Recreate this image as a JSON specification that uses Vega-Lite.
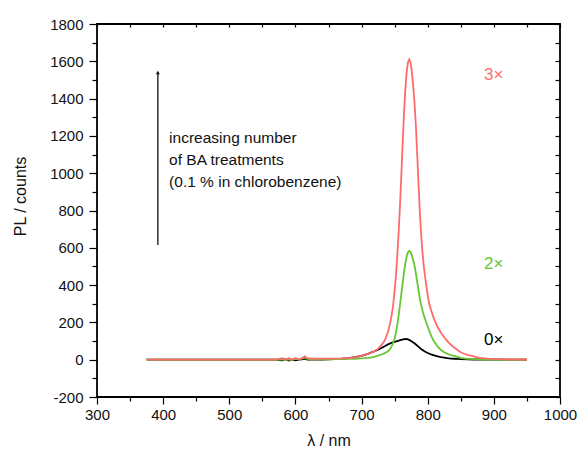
{
 "$schema": "https://vega.github.io/schema/vega-lite/v6.json",
 "width": 463,
 "height": 373,
 "autosize": "none",
 "padding": {"left": 97, "top": 24, "right": 19, "bottom": 60},
 "background": "white",
 "config": {
  "view": {"stroke": "#000", "strokeWidth": 1.8},
  "font": "Liberation Sans",
  "axis": {"grid": false, "domain": false, "labelFlush": false, "tickColor": "#000", "tickWidth": 1.2, "labelColor": "#111", "titleColor": "#111", "labelFont": "Liberation Sans", "titleFont": "Liberation Sans", "labelFontSize": 15, "titleFontSize": 16, "titleFontWeight": "normal"}
 },
 "datasets": {
  "pl": [
   {"s":"0x","nm":375,"pl":0},{"s":"0x","nm":400,"pl":0},{"s":"0x","nm":450,"pl":0},{"s":"0x","nm":500,"pl":0},{"s":"0x","nm":550,"pl":0},{"s":"0x","nm":570,"pl":0},{"s":"0x","nm":580,"pl":-4},{"s":"0x","nm":585,"pl":3},{"s":"0x","nm":590,"pl":-4},{"s":"0x","nm":595,"pl":2},{"s":"0x","nm":600,"pl":-3},{"s":"0x","nm":605,"pl":1},{"s":"0x","nm":610,"pl":2},{"s":"0x","nm":614,"pl":6},{"s":"0x","nm":618,"pl":0},{"s":"0x","nm":625,"pl":0},{"s":"0x","nm":640,"pl":1},{"s":"0x","nm":650,"pl":2},{"s":"0x","nm":660,"pl":3},{"s":"0x","nm":670,"pl":5},{"s":"0x","nm":680,"pl":8},{"s":"0x","nm":690,"pl":14},{"s":"0x","nm":700,"pl":21},{"s":"0x","nm":705,"pl":26},{"s":"0x","nm":710,"pl":32},{"s":"0x","nm":715,"pl":39},{"s":"0x","nm":720,"pl":46},{"s":"0x","nm":725,"pl":54},{"s":"0x","nm":730,"pl":63},{"s":"0x","nm":735,"pl":72},{"s":"0x","nm":740,"pl":82},{"s":"0x","nm":745,"pl":90},{"s":"0x","nm":750,"pl":96},{"s":"0x","nm":755,"pl":101},{"s":"0x","nm":760,"pl":106},{"s":"0x","nm":763,"pl":109},{"s":"0x","nm":766,"pl":111},{"s":"0x","nm":769,"pl":110},{"s":"0x","nm":772,"pl":106},{"s":"0x","nm":776,"pl":98},{"s":"0x","nm":780,"pl":88},{"s":"0x","nm":785,"pl":73},{"s":"0x","nm":790,"pl":57},{"s":"0x","nm":795,"pl":45},{"s":"0x","nm":800,"pl":36},{"s":"0x","nm":805,"pl":29},{"s":"0x","nm":810,"pl":23},{"s":"0x","nm":815,"pl":18},{"s":"0x","nm":820,"pl":14},{"s":"0x","nm":825,"pl":11},{"s":"0x","nm":830,"pl":8},{"s":"0x","nm":835,"pl":6},{"s":"0x","nm":840,"pl":5},{"s":"0x","nm":845,"pl":4},{"s":"0x","nm":850,"pl":3},{"s":"0x","nm":860,"pl":2},{"s":"0x","nm":870,"pl":1},{"s":"0x","nm":880,"pl":1},{"s":"0x","nm":900,"pl":0},{"s":"0x","nm":920,"pl":0},{"s":"0x","nm":950,"pl":0},
   {"s":"2x","nm":375,"pl":0},{"s":"2x","nm":400,"pl":0},{"s":"2x","nm":450,"pl":0},{"s":"2x","nm":500,"pl":0},{"s":"2x","nm":550,"pl":0},{"s":"2x","nm":570,"pl":0},{"s":"2x","nm":580,"pl":0},{"s":"2x","nm":585,"pl":1},{"s":"2x","nm":590,"pl":2},{"s":"2x","nm":595,"pl":1},{"s":"2x","nm":600,"pl":4},{"s":"2x","nm":605,"pl":3},{"s":"2x","nm":610,"pl":6},{"s":"2x","nm":614,"pl":12},{"s":"2x","nm":618,"pl":4},{"s":"2x","nm":625,"pl":2},{"s":"2x","nm":640,"pl":2},{"s":"2x","nm":650,"pl":2},{"s":"2x","nm":660,"pl":3},{"s":"2x","nm":670,"pl":3},{"s":"2x","nm":680,"pl":4},{"s":"2x","nm":690,"pl":5},{"s":"2x","nm":700,"pl":7},{"s":"2x","nm":705,"pl":8},{"s":"2x","nm":710,"pl":10},{"s":"2x","nm":715,"pl":13},{"s":"2x","nm":720,"pl":17},{"s":"2x","nm":725,"pl":22},{"s":"2x","nm":730,"pl":28},{"s":"2x","nm":735,"pl":35},{"s":"2x","nm":740,"pl":45},{"s":"2x","nm":742,"pl":52},{"s":"2x","nm":744,"pl":62},{"s":"2x","nm":746,"pl":75},{"s":"2x","nm":748,"pl":92},{"s":"2x","nm":750,"pl":115},{"s":"2x","nm":752,"pl":145},{"s":"2x","nm":754,"pl":187},{"s":"2x","nm":756,"pl":236},{"s":"2x","nm":758,"pl":292},{"s":"2x","nm":760,"pl":350},{"s":"2x","nm":762,"pl":408},{"s":"2x","nm":764,"pl":465},{"s":"2x","nm":766,"pl":513},{"s":"2x","nm":768,"pl":551},{"s":"2x","nm":770,"pl":575},{"s":"2x","nm":772,"pl":583},{"s":"2x","nm":774,"pl":578},{"s":"2x","nm":776,"pl":560},{"s":"2x","nm":778,"pl":535},{"s":"2x","nm":780,"pl":505},{"s":"2x","nm":782,"pl":465},{"s":"2x","nm":784,"pl":420},{"s":"2x","nm":786,"pl":375},{"s":"2x","nm":788,"pl":330},{"s":"2x","nm":790,"pl":295},{"s":"2x","nm":792,"pl":265},{"s":"2x","nm":794,"pl":240},{"s":"2x","nm":796,"pl":218},{"s":"2x","nm":798,"pl":197},{"s":"2x","nm":800,"pl":178},{"s":"2x","nm":802,"pl":158},{"s":"2x","nm":804,"pl":140},{"s":"2x","nm":806,"pl":123},{"s":"2x","nm":808,"pl":108},{"s":"2x","nm":810,"pl":96},{"s":"2x","nm":815,"pl":70},{"s":"2x","nm":820,"pl":52},{"s":"2x","nm":825,"pl":40},{"s":"2x","nm":830,"pl":31},{"s":"2x","nm":835,"pl":25},{"s":"2x","nm":840,"pl":20},{"s":"2x","nm":845,"pl":15},{"s":"2x","nm":850,"pl":10},{"s":"2x","nm":855,"pl":7},{"s":"2x","nm":860,"pl":5},{"s":"2x","nm":870,"pl":3},{"s":"2x","nm":880,"pl":2},{"s":"2x","nm":900,"pl":1},{"s":"2x","nm":920,"pl":1},{"s":"2x","nm":950,"pl":1},
   {"s":"3x","nm":375,"pl":0},{"s":"3x","nm":400,"pl":0},{"s":"3x","nm":450,"pl":0},{"s":"3x","nm":500,"pl":0},{"s":"3x","nm":550,"pl":0},{"s":"3x","nm":570,"pl":0},{"s":"3x","nm":580,"pl":8},{"s":"3x","nm":585,"pl":0},{"s":"3x","nm":590,"pl":8},{"s":"3x","nm":595,"pl":1},{"s":"3x","nm":600,"pl":8},{"s":"3x","nm":605,"pl":2},{"s":"3x","nm":610,"pl":8},{"s":"3x","nm":614,"pl":18},{"s":"3x","nm":618,"pl":8},{"s":"3x","nm":625,"pl":6},{"s":"3x","nm":640,"pl":6},{"s":"3x","nm":650,"pl":6},{"s":"3x","nm":660,"pl":6},{"s":"3x","nm":670,"pl":7},{"s":"3x","nm":680,"pl":9},{"s":"3x","nm":690,"pl":13},{"s":"3x","nm":700,"pl":21},{"s":"3x","nm":705,"pl":26},{"s":"3x","nm":710,"pl":32},{"s":"3x","nm":715,"pl":38},{"s":"3x","nm":720,"pl":46},{"s":"3x","nm":725,"pl":58},{"s":"3x","nm":730,"pl":78},{"s":"3x","nm":735,"pl":103},{"s":"3x","nm":740,"pl":150},{"s":"3x","nm":742,"pl":180},{"s":"3x","nm":744,"pl":210},{"s":"3x","nm":746,"pl":250},{"s":"3x","nm":748,"pl":300},{"s":"3x","nm":750,"pl":370},{"s":"3x","nm":752,"pl":450},{"s":"3x","nm":754,"pl":560},{"s":"3x","nm":756,"pl":680},{"s":"3x","nm":758,"pl":820},{"s":"3x","nm":760,"pl":980},{"s":"3x","nm":762,"pl":1150},{"s":"3x","nm":764,"pl":1310},{"s":"3x","nm":766,"pl":1440},{"s":"3x","nm":768,"pl":1535},{"s":"3x","nm":770,"pl":1592},{"s":"3x","nm":772,"pl":1610},{"s":"3x","nm":774,"pl":1595},{"s":"3x","nm":776,"pl":1545},{"s":"3x","nm":778,"pl":1470},{"s":"3x","nm":780,"pl":1380},{"s":"3x","nm":782,"pl":1260},{"s":"3x","nm":784,"pl":1110},{"s":"3x","nm":786,"pl":950},{"s":"3x","nm":788,"pl":800},{"s":"3x","nm":790,"pl":675},{"s":"3x","nm":792,"pl":580},{"s":"3x","nm":794,"pl":505},{"s":"3x","nm":796,"pl":445},{"s":"3x","nm":798,"pl":395},{"s":"3x","nm":800,"pl":345},{"s":"3x","nm":802,"pl":305},{"s":"3x","nm":804,"pl":280},{"s":"3x","nm":806,"pl":255},{"s":"3x","nm":808,"pl":235},{"s":"3x","nm":810,"pl":215},{"s":"3x","nm":815,"pl":175},{"s":"3x","nm":820,"pl":145},{"s":"3x","nm":825,"pl":120},{"s":"3x","nm":830,"pl":98},{"s":"3x","nm":835,"pl":80},{"s":"3x","nm":840,"pl":65},{"s":"3x","nm":845,"pl":52},{"s":"3x","nm":850,"pl":40},{"s":"3x","nm":855,"pl":32},{"s":"3x","nm":860,"pl":26},{"s":"3x","nm":865,"pl":22},{"s":"3x","nm":870,"pl":18},{"s":"3x","nm":875,"pl":13},{"s":"3x","nm":880,"pl":10},{"s":"3x","nm":890,"pl":6},{"s":"3x","nm":900,"pl":4},{"s":"3x","nm":910,"pl":3},{"s":"3x","nm":920,"pl":2},{"s":"3x","nm":930,"pl":2},{"s":"3x","nm":940,"pl":1},{"s":"3x","nm":950,"pl":1}
  ],
  "tags": [
   {"s":"3x","nm":885,"pl":1527,"t":"3×"},
   {"s":"2x","nm":885,"pl":513,"t":"2×"},
   {"s":"0x","nm":885,"pl":106,"t":"0×"}
  ],
  "notes": [
   {"nm":409,"pl":1190,"t":"increasing number"},
   {"nm":409,"pl":1072,"t":"of BA treatments"},
   {"nm":409,"pl":954,"t":"(0.1 % in chlorobenzene)"}
  ],
  "arrow": [
   {"nm":392,"lo":615,"hi":1540}
  ]
 },
 "layer": [
  {
   "data": {"name": "pl"},
   "mark": {"type": "line", "strokeWidth": 1.8, "clip": true},
   "encoding": {
    "x": {"field": "nm", "type": "quantitative", "scale": {"domain": [300, 1000], "nice": false, "zero": false},
          "axis": {"orient": "bottom", "values": [300,400,500,600,700,800,900,1000], "format": "d", "tickSize": 7, "labelPadding": 3, "title": "λ / nm", "titleY": 43, "titleBaseline": "middle"}},
    "y": {"field": "pl", "type": "quantitative", "scale": {"domain": [-200, 1800], "nice": false, "zero": false},
          "axis": {"orient": "left", "values": [-200,0,200,400,600,800,1000,1200,1400,1600,1800], "labelExpr": "'' + datum.value", "tickSize": 8, "labelPadding": 6, "title": "PL / counts", "titleX": -77, "titleY": 172, "titleBaseline": "middle", "titleAngle": -90}},
    "color": {"field": "s", "type": "nominal", "scale": {"domain": ["0x","2x","3x"], "range": ["#000000","#66c633","#ff6b6b"]}, "legend": null}
   }
  },
  {
   "data": {"name": "tags"},
   "mark": {"type": "text", "align": "left", "baseline": "middle", "fontSize": 17, "font": "Liberation Sans"},
   "encoding": {
    "x": {"field": "nm", "type": "quantitative", "scale": {"domain": [300, 1000], "nice": false, "zero": false},
          "axis": {"orient": "bottom", "values": [350,450,550,650,750,850,950], "labels": false, "tickSize": 4, "title": null}},
    "y": {"field": "pl", "type": "quantitative", "scale": {"domain": [-200, 1800], "nice": false, "zero": false},
          "axis": {"orient": "left", "values": [-100,100,300,500,700,900,1100,1300,1500,1700], "labels": false, "tickSize": 5, "title": null}},
    "text": {"field": "t"},
    "color": {"field": "s", "type": "nominal", "legend": null}
   }
  },
  {
   "data": {"name": "notes"},
   "mark": {"type": "text", "align": "left", "baseline": "middle", "fontSize": 15.5, "font": "Liberation Sans", "color": "#111"},
   "encoding": {
    "x": {"field": "nm", "type": "quantitative", "scale": {"domain": [300, 1000], "nice": false, "zero": false},
          "axis": {"orient": "top", "values": [300,350,400,450,500,550,600,650,700,750,800,850,900,950,1000], "labels": false, "tickSize": -3, "title": null}},
    "y": {"field": "pl", "type": "quantitative", "scale": {"domain": [-200, 1800], "nice": false, "zero": false},
          "axis": {"orient": "right", "values": [-200,-100,0,100,200,300,400,500,600,700,800,900,1000,1100,1200,1300,1400,1500,1600,1700,1800], "labels": false, "tickSize": -5, "title": null}},
    "text": {"field": "t"}
   }
  },
  {
   "data": {"name": "arrow"},
   "mark": {"type": "rule", "strokeWidth": 1.4, "color": "#222"},
   "encoding": {
    "x": {"field": "nm", "type": "quantitative", "axis": null},
    "y": {"field": "lo", "type": "quantitative", "axis": null},
    "y2": {"field": "hi"}
   }
  },
  {
   "data": {"name": "arrow"},
   "mark": {"type": "point", "shape": "triangle-up", "filled": true, "size": 16, "color": "#111", "opacity": 1},
   "encoding": {
    "x": {"field": "nm", "type": "quantitative", "axis": null},
    "y": {"field": "hi", "type": "quantitative", "axis": null}
   }
  }
 ],
 "resolve": {"axis": {"x": "independent", "y": "independent"}}
}
